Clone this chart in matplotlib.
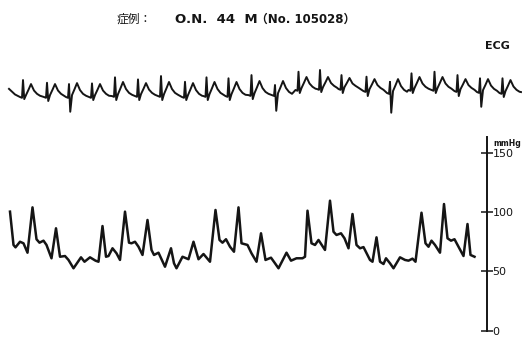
import numpy as np
import matplotlib
matplotlib.use("Agg")
import matplotlib.pyplot as plt

# ---- ECG: one entry per beat (time of R wave in s, levels in mV) ----
ecg_r_time = [0.26, 0.74, 1.18, 1.64, 2.10, 2.56, 3.02, 3.50, 3.93, 4.37, 4.83,
              5.30, 5.77, 6.20, 6.63, 7.13, 7.60, 8.03, 8.49, 8.95, 9.40, 9.85]
ecg_r_amp = [1.25, 1.08, 1.00, 1.04, 1.42, 1.29, 1.50, 1.14, 1.42, 1.36, 1.56,
             0.94, 1.77, 1.88, 1.56, 1.46, 1.14, 1.67, 1.77, 1.56, 1.36, 1.36]
ecg_s_amp = [0.06, -0.06, -0.73, 0.00, 0.00, 0.00, 0.00, 0.00, 0.00, 0.00, 0.06,
             -0.67, 0.44, 0.50, 0.44, 0.25, -0.79, 0.44, 0.44, 0.25, -0.42, 0.19]
ecg_base = [0.19, 0.19, 0.19, 0.19, 0.25, 0.25, 0.25, 0.19, 0.25, 0.25, 0.31,
            0.31, 0.63, 0.69, 0.69, 0.56, 0.44, 0.63, 0.63, 0.56, 0.50, 0.44]
ecg_t_amp = [1.00, 1.00, 1.06, 1.00, 1.13, 1.06, 1.13, 1.06, 1.13, 1.13, 1.19,
             1.19, 1.44, 1.44, 1.38, 1.31, 1.31, 1.44, 1.44, 1.31, 1.31, 1.25]
ecg_lead_in = [(-0.02, 0.70), (0.10, 0.35)]
ecg_lead_out = [(10.22, 0.50)]

# ---- arterial pressure trace (time in s, mmHg) ----
bp_time = [0.00, 0.07, 0.11, 0.20, 0.27, 0.35, 0.45, 0.53, 0.59, 0.67, 0.73, 0.83,
           0.92, 1.00, 1.10, 1.17, 1.27, 1.42, 1.49, 1.60, 1.71, 1.77, 1.85, 1.92,
           1.97, 2.05, 2.13, 2.20, 2.30, 2.38, 2.43, 2.50, 2.57, 2.65, 2.75, 2.83,
           2.88, 2.97, 3.10, 3.22, 3.28, 3.33, 3.45, 3.57, 3.67, 3.77, 3.87, 4.00,
           4.11, 4.19, 4.25, 4.32, 4.40, 4.48, 4.57, 4.63, 4.75, 4.83, 4.93, 5.02,
           5.11, 5.22, 5.30, 5.37, 5.53, 5.62, 5.73, 5.85, 5.90, 5.95, 6.03, 6.10,
           6.17, 6.30, 6.40, 6.47, 6.53, 6.62, 6.69, 6.77, 6.85, 6.93, 7.00, 7.07,
           7.20, 7.25, 7.33, 7.40, 7.47, 7.52, 7.60, 7.67, 7.80, 7.90, 7.97, 8.05,
           8.11, 8.23, 8.31, 8.37, 8.43, 8.50, 8.60, 8.68, 8.75, 8.82, 8.89, 8.97,
           9.07, 9.15, 9.21, 9.29]
bp_mmhg = [100.3, 72.3, 70.3, 75.0, 73.7, 65.8, 103.9, 77.1, 74.2, 75.9, 72.3, 61.1,
           86.3, 62.4, 63.0, 59.7, 52.7, 61.9, 58.2, 61.9, 59.1, 58.2, 88.2, 62.4,
           63.0, 69.5, 65.3, 59.7, 100.3, 74.2, 73.7, 75.0, 70.8, 63.9, 93.3, 68.1,
           63.9, 65.8, 54.0, 69.5, 56.9, 52.7, 62.4, 60.3, 75.0, 60.3, 64.7, 58.2,
           101.7, 76.5, 74.2, 77.1, 70.8, 66.6, 103.9, 73.7, 72.3, 65.3, 58.2, 82.1,
           59.7, 61.6, 56.9, 52.7, 65.8, 59.1, 61.1, 61.1, 62.4, 101.1, 73.7, 72.3,
           76.5, 68.1, 109.5, 83.4, 80.7, 82.1, 77.9, 69.5, 98.3, 72.3, 69.5, 70.5,
           59.7, 58.2, 78.7, 58.2, 56.3, 61.1, 56.9, 52.7, 61.9, 59.7, 59.1, 60.8,
           58.2, 99.4, 73.7, 70.8, 75.9, 72.3, 65.8, 106.7, 77.9, 75.9, 77.1, 70.8,
           63.0, 89.9, 63.9, 62.4]
bp_ticks = [0, 50, 100, 150]

# build the ECG polyline beat by beat
ecg_t = [p[0] for p in ecg_lead_in]
ecg_v = [p[1] for p in ecg_lead_in]
for tr, r, s, b, tw in zip(ecg_r_time, ecg_r_amp, ecg_s_amp, ecg_base, ecg_t_amp):
    offs = [-0.06, -0.02, 0.0, 0.025, 0.06, 0.11, 0.16, 0.22, 0.28, 0.34]
    vals = [b, b - 0.05, r, s, b + 0.12, (b + tw) / 2 + 0.05, tw,
            (b + tw) / 2, b + 0.2, b + 0.08]
    ecg_t += [tr + o for o in offs]
    ecg_v += vals
ecg_t += [p[0] for p in ecg_lead_out]
ecg_v += [p[1] for p in ecg_lead_out]

ink = "#151515"
xlim = (-0.2, 10.24)

fig = plt.figure(figsize=(5.22, 3.48), dpi=100)

ax_ecg = fig.add_axes([0, 0.655, 1, 0.1724])
ax_ecg.plot(ecg_t, ecg_v, color=ink, lw=1.4, solid_joinstyle="round")
ax_ecg.set_xlim(*xlim)
ax_ecg.set_ylim(-1.25, 2.5)
ax_ecg.axis("off")

ax_bp = fig.add_axes([0, 0, 1, 0.6264])
ax_bp.plot(bp_time, bp_mmhg, color=ink, lw=1.8, solid_joinstyle="round")
ax_bp.set_xlim(*xlim)
ax_bp.set_ylim(-14.3, 168.9)
for side in ["top", "left", "bottom"]:
    ax_bp.spines[side].set_visible(False)
ax_bp.spines["right"].set_position(("data", 9.54))
ax_bp.spines["right"].set_bounds(0, 163)
ax_bp.spines["right"].set_linewidth(1.4)
ax_bp.spines["right"].set_color(ink)
ax_bp.set_xticks([])
ax_bp.yaxis.tick_right()
ax_bp.set_yticks(bp_ticks)
ax_bp.set_yticklabels([str(v) for v in bp_ticks])
ax_bp.tick_params(axis="y", direction="inout", length=8, width=1.1, pad=0,
                  labelsize=8, colors=ink)
ax_bp.text(9.66, 155.5, "mmHg", fontsize=5.5, fontweight="bold", color=ink,
           va="baseline", ha="left")
ax_bp.patch.set_alpha(0)

# header texts
fig.text(117 / 522, 0.944, "症例：", fontsize=8.5, va="center", ha="left",
         family=["Noto Sans CJK JP", "DejaVu Sans"], color=ink)
fig.text(175 / 522, 0.944, "O.N.  44  M", fontsize=9.5, fontweight="bold",
         va="center", ha="left", color=ink)
fig.text(256 / 522, 0.944, "（No. 105028）", fontsize=8.5, fontweight="bold",
         va="center", ha="left", family=["DejaVu Sans", "Noto Sans CJK JP"], color=ink)
fig.text(485 / 522, 0.868, "ECG", fontsize=8, fontweight="bold", va="center",
         ha="left", color=ink)

fig.savefig("out.png", dpi=100)
